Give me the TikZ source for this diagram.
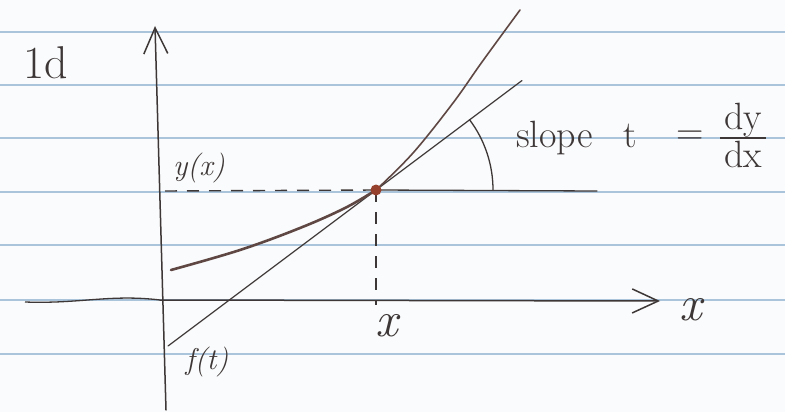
\documentclass[tikz,border=0pt]{standalone}
\usetikzlibrary{arrows.meta}
\definecolor{rule}{RGB}{170,196,220}
\definecolor{ink}{RGB}{62,55,55}
\definecolor{curveink}{RGB}{95,72,68}
\definecolor{dotink}{RGB}{150,65,45}
\definecolor{paper}{RGB}{250,251,252}
\tikzset{
  ruled/.style={rule, line width=1.6pt},
  inkline/.style={ink, line width=1.3pt, line cap=round},
  axisline/.style={ink, line width=1.5pt, line cap=round, -{Straight Barb[length=26pt,width=24pt,line width=1.5pt]}},
  dashline/.style={ink, line width=1.4pt, dash pattern=on 12pt off 10pt},
  lbl/.style={ink, inner sep=0pt},
  big/.style={lbl, font=\fontsize{38}{42}\selectfont}
}
\begin{document}
\begin{tikzpicture}[x=1pt,y=1pt]
\useasboundingbox (0,0) rectangle (785,-412);
\fill[paper] (0,0) rectangle (785,-412);
% ruled paper
\foreach \yy in {32,85,138,192,245,300,354}
  \draw[ruled] (0,-\yy) -- (785,-\yy);
% named points
\coordinate (ybot) at (166,-410);
\coordinate (ytop) at (155,-26);
\coordinate (xstart) at (25,-302);
\coordinate (origin) at (160,-300);
\coordinate (xend) at (660,-301);
\coordinate (P) at (376,-190);
\coordinate (dashL) at (165,-191);
\coordinate (dashB) at (376,-305);
\coordinate (hR) at (597,-191);
\coordinate (tanL) at (168,-346);
\coordinate (tanR) at (522,-80.5);
% axes
\draw[axisline] (ybot) -- (ytop);
\draw[ink, line width=1.3pt] (xstart) .. controls (80,-304) and (110,-294) .. (origin);
\draw[axisline] (origin) -- (xend);
% dashed guides
\draw[dashline] (dashL) -- (P);
\draw[dashline] (P) -- (dashB);
% horizontal reference
\draw[inkline] (P) -- (hR);
% tangent
\draw[inkline, line width=1.2pt] (tanL) -- (tanR);
% curve
\draw[curveink, line width=2.6pt, line cap=round] plot[smooth, tension=0.6] coordinates {(171,-270) (240,-250) (300,-228) (345,-208) (376,-190)};
\draw[curveink, line width=1.6pt, line cap=round] plot[smooth, tension=0.6] coordinates {(376,-190) (413,-153) (453,-103) (482,-62) (520,-10)};
% angle arc
\draw[inkline] (493,-190) arc[start angle=0, end angle=37, radius=117];
% point
\fill[dotink] (P) circle (5.5);
% labels
\node[lbl] (l1d) at (46,-63) {\fontsize{46}{50}\selectfont 1d};
\node[lbl] (lyx) at (199,-168) {\fontsize{30}{34}\selectfont\itshape y(x)};
\node[lbl] (lx1) at (387,-326) {\fontsize{50}{56}\selectfont\itshape x};
\node[lbl] (lx2) at (691,-310) {\fontsize{50}{56}\selectfont\itshape x};
\node[lbl] (lft) at (207,-362) {\fontsize{30}{34}\selectfont\itshape f(t)};
\node[big, anchor=base west] (lslope) at (516,-147) {slope};
\node[big, anchor=base] (lt) at (630,-147) {t};
\node[big] (leq) at (690,-138) {=};
\node[big, anchor=base] (ldy) at (743,-129) {dy};
\node[big, anchor=base] (ldx) at (743,-167) {dx};
\draw[ink, line width=1.4pt] (720,-138) -- (766,-138);
\end{tikzpicture}
\end{document}
